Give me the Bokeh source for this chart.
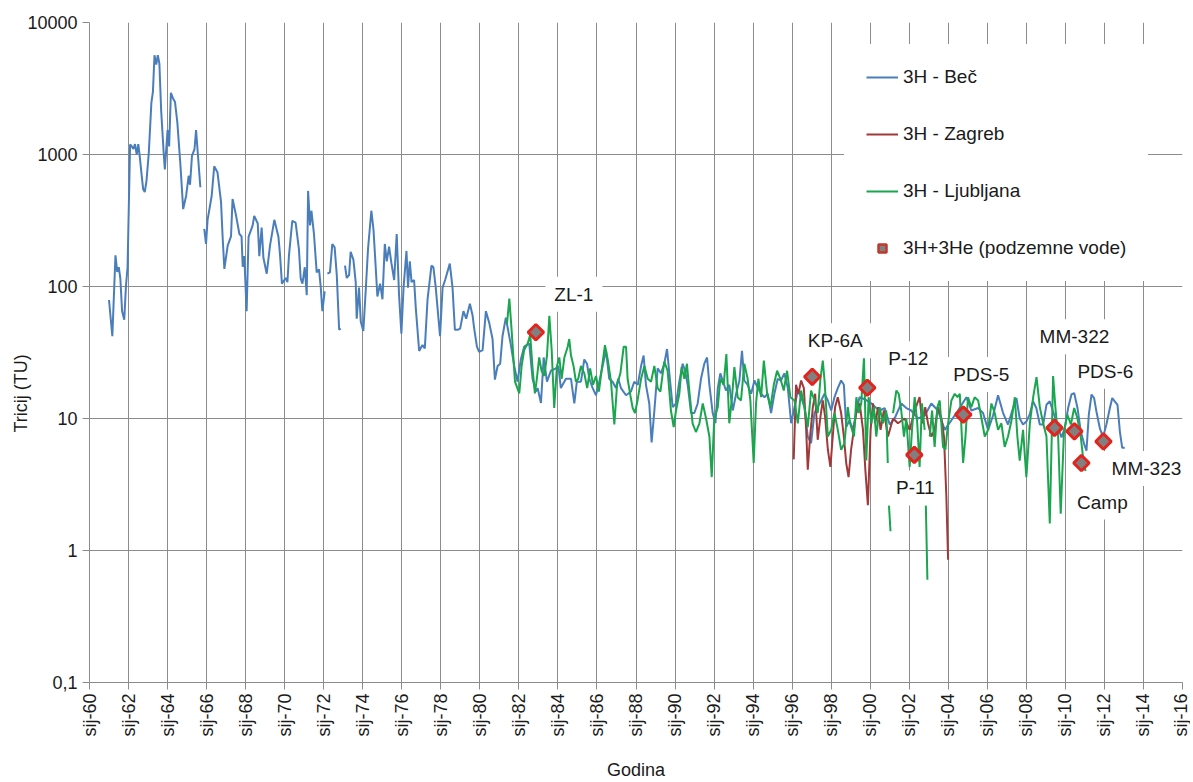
import math
from bokeh.plotting import figure
from bokeh.models import FixedTicker, Label, Legend, LegendItem, Title
from bokeh.embed import file_html
from bokeh.resources import INLINE

nan = float("nan")

# ---------------- data (decimal year, tritium TU) ----------------
BEC = [
    (1961.00, 79), (1961.17, 42), (1961.33, 172), (1961.42, 129), (1961.50, 140), (1961.58, 115),
    (1961.67, 65), (1961.78, 56), (1961.87, 102), (1961.95, 140),
    (1962.08, 1190), (1962.17, 1150), (1962.25, 1100), (1962.33, 1200), (1962.42, 1000), (1962.50, 1200),
    (1962.58, 950), (1962.67, 700), (1962.75, 545), (1962.83, 520), (1962.92, 630),
    (1963.04, 1040), (1963.17, 2460), (1963.25, 3000), (1963.33, 5650), (1963.42, 4800), (1963.50, 5650),
    (1963.58, 4900), (1963.67, 2180), (1963.79, 1090), (1963.86, 770),
    (1964.00, 1530), (1964.08, 1150), (1964.17, 2930), (1964.29, 2640), (1964.38, 2500), (1964.50, 1750),
    (1964.65, 870), (1964.80, 386), (1964.95, 485),
    (1965.08, 690), (1965.15, 590), (1965.25, 975), (1965.38, 1100), (1965.46, 1530), (1965.68, 565),
    (1965.78, nan),
    (1965.88, 273), (1965.97, 210), (1966.05, 320), (1966.26, 485), (1966.39, 815), (1966.56, 730),
    (1966.74, 435), (1966.82, 238), (1966.91, 136),
    (1967.08, 204), (1967.25, 240), (1967.33, 460), (1967.50, 350), (1967.68, 250), (1967.79, 240),
    (1967.85, 141), (1967.93, 170),
    (1968.05, 65), (1968.15, 238), (1968.36, 290), (1968.44, 343), (1968.62, 300), (1968.70, 170),
    (1968.82, 280), (1968.91, 165),
    (1969.08, 125), (1969.25, 205), (1969.47, 320), (1969.68, 238), (1969.76, 175), (1969.86, 105),
    (1970.05, 116), (1970.14, 108), (1970.22, 172), (1970.39, 314), (1970.56, 305), (1970.73, 192),
    (1970.82, 115), (1970.91, 105),
    (1971.03, 140), (1971.13, 86), (1971.20, 530), (1971.30, 290), (1971.37, 375), (1971.50, 250),
    (1971.64, 128), (1971.76, 135), (1971.85, 98), (1971.93, 65),
    (1972.05, 92), (1972.12, nan), (1972.19, 125), (1972.32, 128), (1972.44, 210), (1972.56, 198),
    (1972.67, 122), (1972.79, 47), (1972.87, 48), (1972.98, nan),
    (1973.09, 144), (1973.18, 116), (1973.30, 122), (1973.38, 183), (1973.52, 160), (1973.64, 108),
    (1973.69, 57), (1973.81, 98), (1973.90, 54),
    (1974.03, 46), (1974.15, 92), (1974.27, 192), (1974.44, 375), (1974.55, 270), (1974.67, 135),
    (1974.75, 84), (1974.89, 105),
    (1975.01, 80), (1975.13, 210), (1975.23, 155), (1975.35, 200), (1975.47, 150), (1975.61, 112),
    (1975.74, 250), (1975.86, 86), (1975.98, 44),
    (1976.09, 98), (1976.24, 186), (1976.32, 98), (1976.41, 155), (1976.50, 108), (1976.63, 112),
    (1976.72, 68), (1976.89, 32.5),
    (1977.06, 36), (1977.18, 34), (1977.32, 80), (1977.52, 144), (1977.62, 140), (1977.74, 98),
    (1977.96, 42),
    (1978.09, 98), (1978.22, 112), (1978.46, 149), (1978.60, 98), (1978.72, 47), (1978.86, 47),
    (1978.99, 48),
    (1979.16, 65), (1979.30, 57), (1979.49, 74), (1979.63, 60), (1979.71, 48), (1979.85, 35),
    (1979.96, 32),
    (1980.14, 33), (1980.31, 65), (1980.48, 53), (1980.65, 40), (1980.77, 19.7), (1980.91, 25),
    (1981.04, 26), (1981.16, 42), (1981.33, 58), (1981.59, 36), (1981.76, 25), (1981.93, 19),
    (1982.10, 28), (1982.27, 35), (1982.53, 37), (1982.70, 20), (1982.87, 16), (1982.96, 17),
    (1983.13, 13.1), (1983.27, 29), (1983.44, 19), (1983.64, 23), (1983.90, 24),
    (1984.02, 25), (1984.15, 17), (1984.41, 20), (1984.67, 20), (1984.84, 13), (1984.97, 19),
    (1985.18, 19), (1985.35, 28), (1985.49, 26), (1985.61, 20), (1985.78, 17), (1985.95, 15),
    (1986.12, 19), (1986.29, 25), (1986.46, 33), (1986.63, 20), (1986.80, 19), (1986.97, 17),
    (1987.09, 20), (1987.23, 17), (1987.49, 15), (1987.74, 16), (1987.91, 19),
    (1988.09, 18), (1988.26, 25), (1988.39, 30), (1988.51, 18), (1988.68, 13), (1988.80, 6.6),
    (1988.94, 11.4),
    (1989.11, 24), (1989.28, 22), (1989.45, 26), (1989.59, 33.6), (1989.71, 21.8), (1989.88, 12.2),
    (1990.05, 13), (1990.22, 19), (1990.39, 26), (1990.51, 23), (1990.65, 18), (1990.82, 11),
    (1990.99, 11),
    (1991.16, 13), (1991.33, 20), (1991.50, 26), (1991.64, 29), (1991.76, 18), (1991.93, 11),
    (1992.07, 9.2), (1992.19, 17), (1992.32, 22), (1992.44, 19.4), (1992.61, 16.3), (1992.78, 18),
    (1992.96, 11.5),
    (1993.13, 15.4), (1993.30, 19.4), (1993.43, 32.6), (1993.55, 19.4), (1993.72, 18), (1993.90, 15.4),
    (1994.07, 19.4), (1994.24, 17), (1994.41, 15.4), (1994.58, 14.5), (1994.75, 15.4), (1994.92, 11),
    (1995.09, 15.4), (1995.26, 20), (1995.43, 19.4), (1995.60, 22), (1995.78, 17), (1995.95, 9.2),
    (1996.12, 12.2), (1996.29, 16.3), (1996.46, 14.5), (1996.63, 12.2), (1996.80, 7.3), (1996.97, 6.5),
    (1997.14, 11), (1997.31, 12.2), (1997.49, 13.7), (1997.66, 15.4), (1997.83, 13.7),
    (1998.00, 11.5), (1998.17, 14.5), (1998.34, 17), (1998.51, 19.4), (1998.65, 18), (1998.77, 8.6),
    (1998.94, 9.7),
    (1999.11, 8.2), (1999.28, 11), (1999.45, 14.5), (1999.71, 14),
    (2000.06, 13), (2000.31, 12), (2000.48, 11.5), (2000.74, 12),
    (2001.00, 9), (2001.25, 10), (2001.59, 13), (2001.85, 12),
    (2002.10, 11.5), (2002.45, 10), (2002.79, 10.5),
    (2003.13, 13), (2003.47, 11.5), (2003.82, 8.2),
    (2004.16, 9.7), (2004.50, 11.5), (2004.93, 14.5),
    (2005.18, 11.5), (2005.53, 12), (2005.78, 11),
    (2006.04, 8.2), (2006.29, 10.5), (2006.55, 15), (2006.81, 11),
    (2007.06, 9), (2007.32, 12), (2007.49, 14.3), (2007.66, 10), (2007.83, 9),
    (2008.00, 9.5), (2008.17, 10.7), (2008.34, 13.5), (2008.51, 12), (2008.69, 9), (2008.86, 9),
    (2009.03, 12.7), (2009.20, 13.5), (2009.37, 11.3), (2009.63, 8.5), (2009.80, 7.2), (2009.97, 8.5),
    (2010.14, 12), (2010.31, 15.2), (2010.45, 15.6), (2010.62, 12), (2010.79, 8), (2010.96, 6.4),
    (2011.08, 5.7), (2011.20, 10.7), (2011.34, 15.2), (2011.47, 14.3), (2011.59, 11.3), (2011.76, 8.5),
    (2011.93, 7.2),
    (2012.10, 9), (2012.28, 12), (2012.40, 14.3), (2012.53, 13.5), (2012.67, 12.7), (2012.79, 8),
    (2012.91, 6), (2013.04, 6),
]

ZAGREB = [
    (1996.08, 4.9), (1996.20, 18), (1996.32, 15.4), (1996.46, 19.4), (1996.60, 17), (1996.72, 8.2),
    (1996.80, 4.1), (1996.92, 7.3),
    (1997.06, 12.2), (1997.18, 15.4), (1997.31, 6.9), (1997.45, 10.3), (1997.57, 13.7), (1997.69, 10.3),
    (1997.83, 5.8), (1997.96, 4.3),
    (1998.08, 7.3), (1998.20, 12.2), (1998.34, 14.5), (1998.51, 11), (1998.65, 7.3), (1998.77, 4.6),
    (1998.89, 3.6),
    (1999.02, 5.8), (1999.16, 8.2), (1999.28, 11), (1999.46, 13), (1999.63, 8.2), (1999.75, 4.1),
    (1999.88, 2.2),
    (2000.02, 8.2), (2000.14, 13), (2000.26, 9.2), (2000.40, 12.2), (2000.53, 8.2), (2000.70, 11.5),
    (2000.91, 7.3),
    (2001.17, 10), (2001.42, 9.2), (2001.76, 10),
    (2002.02, 8.2), (2002.28, 11.5), (2002.53, 14.5), (2002.67, 9.2), (2002.82, 12.2), (2002.96, 9.2),
    (2003.13, 7.3), (2003.30, 8.2), (2003.47, 12.2), (2003.65, 10), (2003.78, 7.3), (2003.90, 2.6),
    (2003.99, 0.85),
]

LJUBLJANA = [
    (1981.39, 52), (1981.51, 81), (1981.63, 46), (1981.80, 19),
    (1982.02, 15.5), (1982.14, 25), (1982.27, 33), (1982.45, 37), (1982.58, 43), (1982.70, 24),
    (1982.82, 15.5), (1982.92, 20),
    (1983.04, 29), (1983.16, 23), (1983.30, 21), (1983.44, 30), (1983.56, 60), (1983.68, 33),
    (1983.81, 12), (1983.95, 25),
    (1984.07, 29), (1984.19, 20), (1984.33, 29), (1984.50, 35), (1984.58, 40), (1984.67, 30),
    (1984.80, 25), (1984.92, 19),
    (1985.04, 20), (1985.18, 25), (1985.35, 22), (1985.50, 17), (1985.65, 24), (1985.80, 18),
    (1985.95, 21),
    (1986.10, 16), (1986.25, 24), (1986.41, 36), (1986.55, 28), (1986.72, 19), (1986.89, 9.0),
    (1987.03, 18), (1987.20, 22), (1987.37, 35), (1987.49, 35), (1987.57, 20), (1987.71, 15),
    (1987.83, 12), (1987.95, 11),
    (1988.09, 14), (1988.26, 20), (1988.43, 25), (1988.60, 20), (1988.77, 19), (1988.94, 25),
    (1989.11, 17), (1989.25, 16), (1989.37, 22), (1989.45, 27), (1989.62, 23), (1989.79, 11.5),
    (1989.93, 8.6),
    (1990.05, 11.5), (1990.22, 15.4), (1990.34, 24.5), (1990.48, 20), (1990.61, 26), (1990.73, 16.3),
    (1990.90, 9.2),
    (1991.07, 7.9), (1991.25, 9.2), (1991.42, 13), (1991.59, 10), (1991.76, 7.3), (1991.88, 3.6),
    (1992.01, 10), (1992.19, 12.2), (1992.32, 20), (1992.49, 18), (1992.63, 30.8), (1992.78, 9.2),
    (1992.92, 14.5),
    (1993.04, 24.5), (1993.21, 14.5), (1993.38, 13.7), (1993.55, 26), (1993.72, 20), (1993.86, 13.7),
    (1994.03, 4.6), (1994.15, 13), (1994.27, 20), (1994.41, 14.5), (1994.55, 27.5), (1994.72, 15.4),
    (1994.89, 12.2),
    (1995.06, 18), (1995.23, 23), (1995.40, 20), (1995.57, 16.3), (1995.74, 23), (1995.91, 14.5),
    (1996.12, 13.7), (1996.29, 9.2), (1996.46, 16.3), (1996.63, 12.2), (1996.80, 8.6), (1996.97, 16.3),
    (1997.14, 13.7), (1997.31, 11), (1997.45, 20), (1997.57, 27.5), (1997.66, 19.4), (1997.83, 7.3),
    (1998.00, 8.2), (1998.17, 11), (1998.34, 8.2), (1998.51, 5.8), (1998.68, 6.5), (1998.85, 12.2),
    (1998.97, 9.2),
    (1999.17, 7.3), (1999.29, 14.5), (1999.41, 11), (1999.54, 13), (1999.68, 29), (1999.80, 4.8),
    (1999.92, 14.5),
    (2000.06, 9.2), (2000.19, 12.2), (2000.31, 7.3), (2000.48, 12.2), (2000.65, 9.2), (2000.82, 11.5),
    (2000.90, 4.6), (2000.93, nan), (2000.96, 2.2), (2001.04, 1.4), (2001.09, nan),
    (2001.17, 11), (2001.34, 16.3), (2001.46, 15.4), (2001.59, 11.5), (2001.73, 7.3), (2001.85, 10),
    (2002.02, 4.3), (2002.14, 8.2), (2002.28, 14.5), (2002.41, 9.2), (2002.53, 4.3), (2002.65, 13),
    (2002.79, 8.2), (2002.82, nan), (2002.85, 2.2), (2002.93, 0.6), (2002.97, nan),
    (2003.05, 7.3), (2003.17, 11.5), (2003.30, 6.1), (2003.44, 12.2), (2003.56, 13.7), (2003.73, 6.1),
    (2003.85, 5.8), (2003.99, 9.2),
    (2004.16, 13.7), (2004.33, 15.4), (2004.47, 14.5), (2004.59, 15.4), (2004.76, 4.6), (2004.88, 7.3),
    (2005.01, 14.5), (2005.18, 12.2), (2005.35, 14.5), (2005.53, 13.7), (2005.70, 10), (2005.87, 7.3),
    (2006.04, 8.2), (2006.21, 13), (2006.38, 11), (2006.55, 8.2), (2006.72, 9.2), (2006.89, 6.1),
    (2007.06, 7.3), (2007.24, 9.7), (2007.41, 14.5), (2007.54, 7.3), (2007.66, 4.8), (2007.83, 8.2),
    (2008.00, 3.6), (2008.18, 9.2), (2008.35, 14.5), (2008.52, 20.6), (2008.69, 12.2), (2008.86, 9.2),
    (2009.03, 7.3), (2009.20, 1.6), (2009.37, 21), (2009.49, 12), (2009.63, 7.2), (2009.76, 1.9),
    (2009.93, 8),
    (2010.10, 10.7), (2010.28, 9), (2010.45, 12), (2010.62, 10), (2010.79, 7.2), (2010.91, 5),
    (2011.03, 4),
]

# groundwater samples (3H+3He)
SAMPLE_NAMES = ["ZL-1", "KP-6A", "P-12", "P-11", "PDS-5", "MM-322", "PDS-6", "Camp", "MM-323"]
SAMPLE_YEAR = [1982.87, 1997.03, 1999.85, 2002.26, 2004.77, 2009.44, 2010.46, 2010.82, 2011.95]
SAMPLE_TU = [45, 20.7, 17.1, 5.3, 10.7, 8.5, 8.0, 4.6, 6.7]

YEAR_TICKS = list(range(1960, 2017, 2))
Y_TICKS = [0.1, 1, 10, 100, 1000, 10000]
Y_TICK_LABELS = ["0,1", "1", "10", "100", "1000", "10000"]

# label offsets in screen pixels relative to each sample marker (dx right, dy up)
LABEL_OFFSETS = [(38, 38), (23, 36), (41, 29), (1, -33), (18, 40), (20, 91), (31, 60), (21, -39), (43, -27)]

FONT = "Liberation Sans"
TXT = "#1a1a1a"
GRID = "#8c8c8c"


def split(series):
    return [a for a, _ in series], [b for _, b in series]


p = figure(width=1190, height=782, x_range=(1960, 2016), y_range=(0.1, 10000),
           y_axis_type="log", output_backend="svg", toolbar_location=None,
           min_border_left=89, min_border_right=8, min_border_top=22, min_border_bottom=96,
           background_fill_color="white", border_fill_color="white", outline_line_color=None)

p.xaxis.ticker = FixedTicker(ticks=YEAR_TICKS)
p.xaxis.major_label_overrides = {y: "sij-%02d" % (y % 100) for y in YEAR_TICKS}
p.xaxis.major_label_orientation = math.pi / 2
p.yaxis.ticker = FixedTicker(ticks=Y_TICKS)
p.yaxis.major_label_overrides = {t: s for t, s in zip(Y_TICKS, Y_TICK_LABELS)}

for ax in (p.xaxis, p.yaxis):
    ax.axis_line_color = GRID
    ax.major_tick_line_color = GRID
    ax.minor_tick_line_color = None
    ax.major_tick_out = 7
    ax.major_tick_in = 0
    ax.major_label_text_font = FONT
    ax.major_label_text_font_size = "18px"
    ax.major_label_text_color = TXT
p.xaxis.major_label_standoff = 4
p.yaxis.major_label_standoff = 5

p.xaxis.axis_label = "Godina"
p.xaxis.axis_label_text_font = FONT
p.xaxis.axis_label_text_font_size = "18px"
p.xaxis.axis_label_text_font_style = "normal"
p.xaxis.axis_label_text_color = TXT
p.xaxis.axis_label_standoff = 20

p.grid.grid_line_color = GRID
p.grid.grid_line_width = 1
p.grid.minor_grid_line_color = None

bx, by = split(BEC)
zx, zy = split(ZAGREB)
lx, ly = split(LJUBLJANA)

r_bec = p.line(bx, by, line_color="#4a7ebb", line_width=2)
r_zag = p.line(zx, zy, line_color="#a0393a", line_width=2)
r_lju = p.line(lx, ly, line_color="#1aa64e", line_width=2)

r_pts = p.scatter(SAMPLE_YEAR, SAMPLE_TU, marker="square", angle=math.pi / 4, size=11,
                  fill_color="#808080", line_color="#e3231c", line_width=3)
r_leg = p.scatter([nan], [nan], marker="square", angle=math.pi / 4, size=7,
                  fill_color="#808080", line_color="#c0392b", line_width=2.5)

for name, xv, yv, (dx, dy) in zip(SAMPLE_NAMES, SAMPLE_YEAR, SAMPLE_TU, LABEL_OFFSETS):
    p.add_layout(Label(x=xv, y=yv, x_offset=dx, y_offset=dy, text=name,
                       text_font=FONT, text_font_size="19px", text_color=TXT,
                       text_align="center", text_baseline="middle",
                       background_fill_color="white", background_fill_alpha=1.0,
                       padding=(9, 7)))

legend = Legend(items=[LegendItem(label="3H - Beč", renderers=[r_bec]),
                       LegendItem(label="3H - Zagreb", renderers=[r_zag]),
                       LegendItem(label="3H - Ljubljana", renderers=[r_lju]),
                       LegendItem(label="3H+3He (podzemne vode)", renderers=[r_leg])],
                location=(755, 401), orientation="vertical",
                label_text_font=FONT, label_text_font_size="19px", label_text_color=TXT,
                glyph_width=32, glyph_height=20, label_height=20, label_standoff=5,
                spacing=35, padding=0, margin=0,
                border_line_color="white", border_line_width=22, border_line_join="miter",
                background_fill_color="white", background_fill_alpha=1.0)
p.add_layout(legend)

p.add_layout(Title(text="Tricij (TU)", align="left", offset=250, standoff=-13,
                   text_font=FONT, text_font_size="18px", text_font_style="normal",
                   text_color=TXT), "left")

open("out.html", "w").write(file_html(p, INLINE))
